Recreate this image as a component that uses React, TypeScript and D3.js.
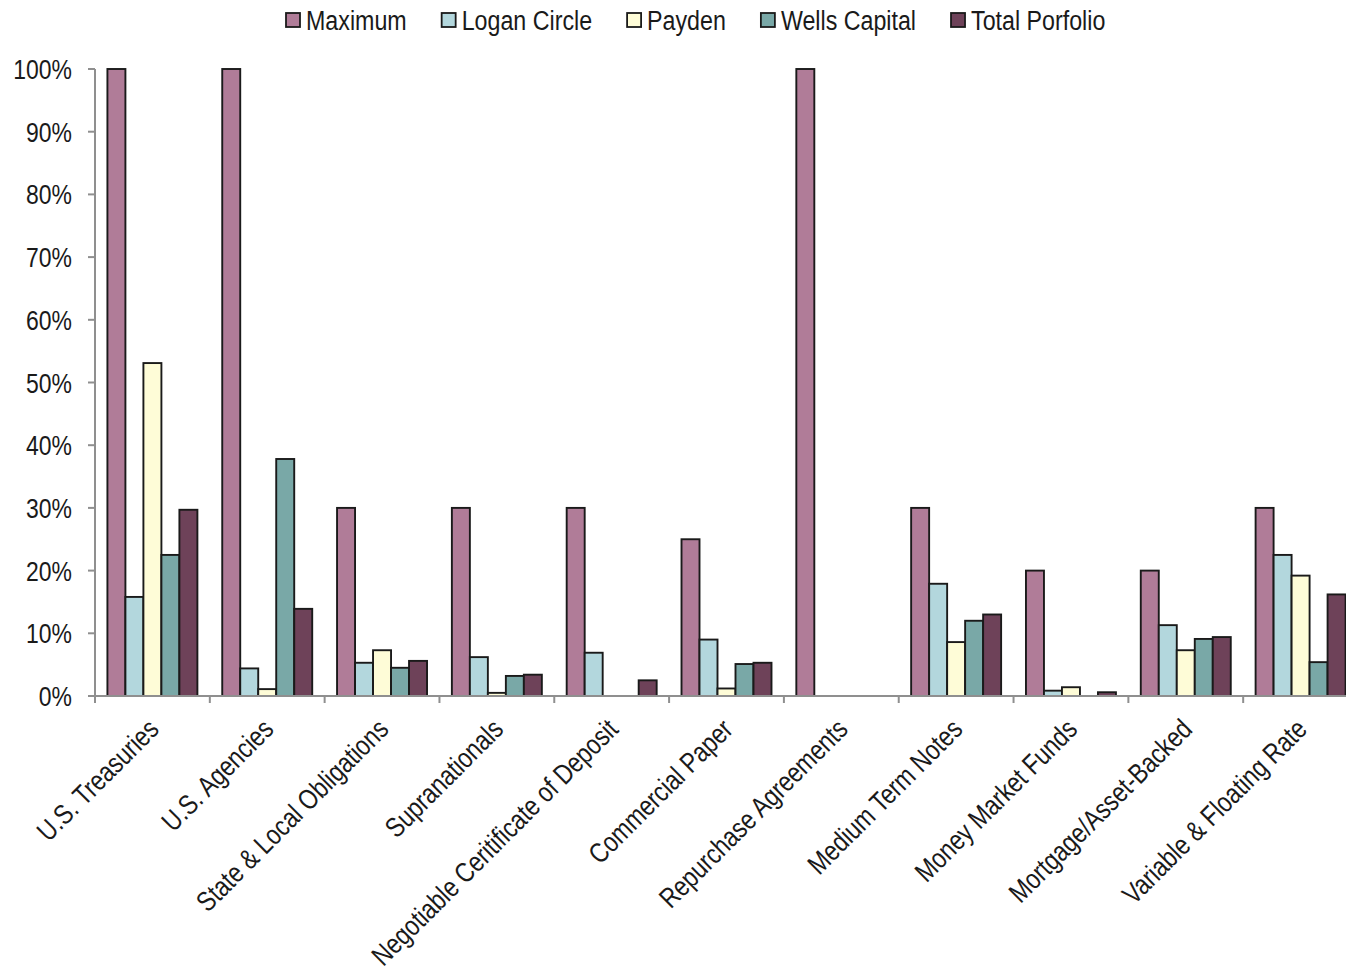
import React, { useEffect, useRef } from "react";
import * as d3 from "d3";

const categories = [
  "U.S. Treasuries",
  "U.S. Agencies",
  "State & Local Obligations",
  "Supranationals",
  "Negotiable Ceritificate of Deposit",
  "Commercial Paper",
  "Repurchase Agreements",
  "Medium Term Notes",
  "Money Market Funds",
  "Mortgage/Asset-Backed",
  "Variable & Floating Rate",
];

const seriesNames = ["Maximum", "Logan Circle", "Payden", "Wells Capital", "Total Porfolio"];
const seriesColors = ["#b07c98", "#b3d7dd", "#fefcd7", "#79a8a7", "#6e4259"];

const maximum = [100, 100, 30, 30, 30, 25, 100, 30, 20, 20, 30];
const loganCircle = [15.8, 4.4, 5.3, 6.2, 6.9, 9.0, 0, 17.9, 0.85, 11.3, 22.5];
const payden = [53.1, 1.1, 7.3, 0.5, 0, 1.2, 0, 8.6, 1.4, 7.3, 19.2];
const wellsCapital = [22.5, 37.8, 4.5, 3.2, 0, 5.1, 0, 12.0, 0, 9.1, 5.4];
const totalPortfolio = [29.7, 13.9, 5.6, 3.4, 2.5, 5.3, 0, 13.0, 0.6, 9.4, 16.2];

const yTicks = [0, 10, 20, 30, 40, 50, 60, 70, 80, 90, 100];

const FONT = "'Liberation Sans', Arial, sans-serif";
const SQ = 0.82; // horizontal squeeze for a narrow look
const FS = 28;

export default function App() {
  const ref = useRef<SVGSVGElement | null>(null);

  useEffect(() => {
    const svg = d3.select(ref.current);
    svg.selectAll("*").remove();

    const seriesValues = [maximum, loganCircle, payden, wellsCapital, totalPortfolio];
    const left = 95;
    const right = 1358;
    const top = 69;
    const bottom = 696;

    const x0 = d3.scaleBand<string>().domain(categories).range([left, right]).padding(0);
    const x1 = d3
      .scaleBand<string>()
      .domain(seriesNames)
      .range([0, x0.bandwidth()])
      .paddingInner(0)
      .paddingOuter(0.69);
    const y = d3.scaleLinear().domain([0, 100]).range([bottom, top]);

    const g = svg.append("g");
    categories.forEach((c, ci) => {
      seriesNames.forEach((s, si) => {
        const v = seriesValues[si][ci];
        if (v <= 0) return;
        g.append("rect")
          .attr("x", (x0(c) ?? 0) + (x1(s) ?? 0))
          .attr("y", y(v))
          .attr("width", x1.bandwidth())
          .attr("height", y(0) - y(v))
          .attr("fill", seriesColors[si])
          .attr("stroke", "#1a1a1a")
          .attr("stroke-width", 1.9);
      });
    });

    const axisColor = "#8f8f8f";
    svg
      .append("line")
      .attr("x1", left)
      .attr("x2", left)
      .attr("y1", top)
      .attr("y2", bottom)
      .attr("stroke", axisColor)
      .attr("stroke-width", 2);
    yTicks.forEach((t) => {
      svg
        .append("line")
        .attr("x1", left - 7)
        .attr("x2", left)
        .attr("y1", y(t))
        .attr("y2", y(t))
        .attr("stroke", axisColor)
        .attr("stroke-width", 2);
      svg
        .append("text")
        .attr("transform", `translate(72,${y(t)}) scale(${SQ},1)`)
        .attr("dy", "0.36em")
        .attr("text-anchor", "end")
        .attr("font-family", FONT)
        .attr("font-size", FS)
        .attr("fill", "#1a1a1a")
        .text(`${t}%`);
    });

    svg
      .append("line")
      .attr("x1", left)
      .attr("x2", right)
      .attr("y1", bottom)
      .attr("y2", bottom)
      .attr("stroke", axisColor)
      .attr("stroke-width", 2);
    categories.forEach((c) => {
      const xs = x0(c) ?? 0;
      svg
        .append("line")
        .attr("x1", xs)
        .attr("x2", xs)
        .attr("y1", bottom)
        .attr("y2", bottom + 7)
        .attr("stroke", axisColor)
        .attr("stroke-width", 2);
      const cx = xs + x0.bandwidth() / 2;
      svg
        .append("text")
        .attr("transform", `translate(${cx + 8},${731}) rotate(-45) scale(${SQ},1)`)
        .attr("text-anchor", "end")
        .attr("font-family", FONT)
        .attr("font-size", FS)
        .attr("fill", "#1a1a1a")
        .text(c);
    });
    svg
      .append("line")
      .attr("x1", right)
      .attr("x2", right)
      .attr("y1", bottom)
      .attr("y2", bottom + 7)
      .attr("stroke", axisColor)
      .attr("stroke-width", 2);

    const legend = svg.append("g");
    let lx = 286;
    seriesNames.forEach((s, si) => {
      legend
        .append("rect")
        .attr("x", lx)
        .attr("y", 13)
        .attr("width", 14)
        .attr("height", 14)
        .attr("fill", seriesColors[si])
        .attr("stroke", "#1a1a1a")
        .attr("stroke-width", 1.8);
      const t = legend
        .append("text")
        .attr("transform", `translate(${lx + 20},20) scale(0.83,1)`)
        .attr("dy", "0.36em")
        .attr("font-family", FONT)
        .attr("font-size", FS)
        .attr("fill", "#1a1a1a")
        .text(s);
      const w = (t.node() as SVGTextElement).getComputedTextLength() * 0.83;
      lx += 20 + w + 35;
    });
  }, []);

  return (
    <svg
      ref={ref}
      width={1346}
      height={972}
      style={{ position: "absolute", left: 0, top: 0, background: "#ffffff" }}
    />
  );
}
